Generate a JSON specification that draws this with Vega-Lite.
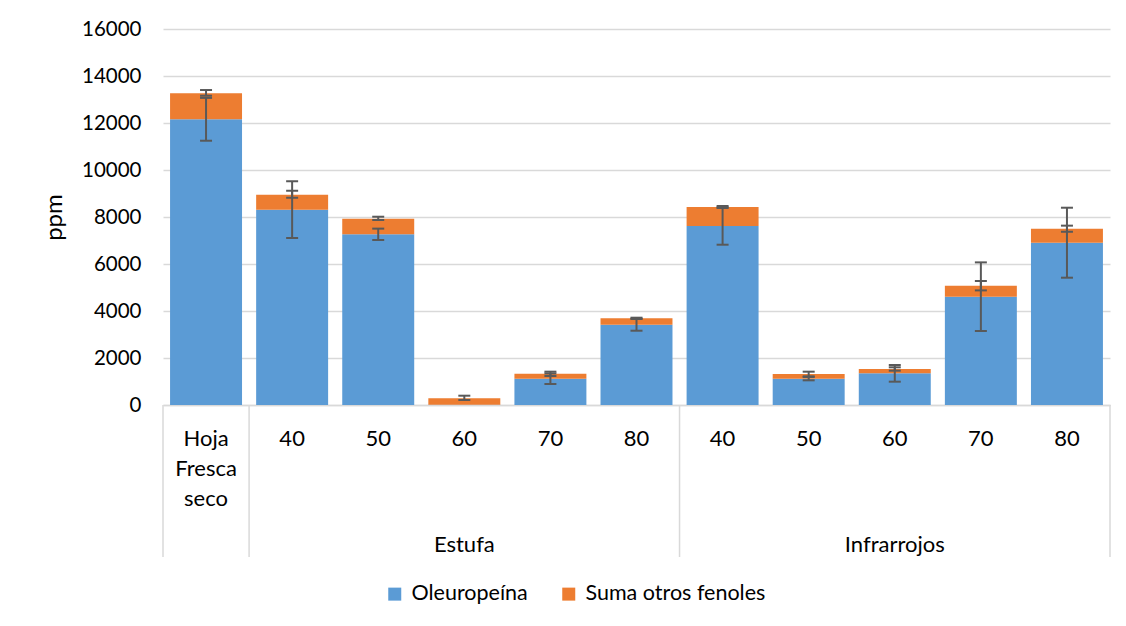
{
  "$schema": "https://vega.github.io/schema/vega-lite/v6.json",
  "background": "white",
  "padding": {"left": 42, "top": 19, "right": 10, "bottom": 5},
  "spacing": 0,
  "bounds": "flush",
  "config": {
    "font": "Lato",
    "view": {"stroke": null},
    "axis": {"labelFont": "Lato", "titleFont": "Lato", "labelColor": "#000000", "titleColor": "#000000", "titleFontSize": 24, "titleFontWeight": "normal"},
    "legend": {"labelFont": "Lato"}
  },
  "datasets": {
    "bars": [
      {"cat": "H", "series": "Oleuropeína", "ord": 1, "value": 12160},
      {"cat": "H", "series": "Suma otros fenoles", "ord": 2, "value": 1105},
      {"cat": "E40", "series": "Oleuropeína", "ord": 1, "value": 8310},
      {"cat": "E40", "series": "Suma otros fenoles", "ord": 2, "value": 640},
      {"cat": "E50", "series": "Oleuropeína", "ord": 1, "value": 7265},
      {"cat": "E50", "series": "Suma otros fenoles", "ord": 2, "value": 665},
      {"cat": "E60", "series": "Oleuropeína", "ord": 1, "value": 15},
      {"cat": "E60", "series": "Suma otros fenoles", "ord": 2, "value": 275},
      {"cat": "E70", "series": "Oleuropeína", "ord": 1, "value": 1120},
      {"cat": "E70", "series": "Suma otros fenoles", "ord": 2, "value": 213},
      {"cat": "E80", "series": "Oleuropeína", "ord": 1, "value": 3418},
      {"cat": "E80", "series": "Suma otros fenoles", "ord": 2, "value": 270},
      {"cat": "I40", "series": "Oleuropeína", "ord": 1, "value": 7616},
      {"cat": "I40", "series": "Suma otros fenoles", "ord": 2, "value": 809},
      {"cat": "I50", "series": "Oleuropeína", "ord": 1, "value": 1120},
      {"cat": "I50", "series": "Suma otros fenoles", "ord": 2, "value": 200},
      {"cat": "I60", "series": "Oleuropeína", "ord": 1, "value": 1347},
      {"cat": "I60", "series": "Suma otros fenoles", "ord": 2, "value": 185},
      {"cat": "I70", "series": "Oleuropeína", "ord": 1, "value": 4609},
      {"cat": "I70", "series": "Suma otros fenoles", "ord": 2, "value": 468},
      {"cat": "I80", "series": "Oleuropeína", "ord": 1, "value": 6906},
      {"cat": "I80", "series": "Suma otros fenoles", "ord": 2, "value": 596}
    ],
    "err": [
      {"cat": "H", "series": "Oleuropeína", "lo": 11246, "hi": 13068},
      {"cat": "H", "series": "Suma otros fenoles", "lo": 13161, "hi": 13403},
      {"cat": "E40", "series": "Oleuropeína", "lo": 7106, "hi": 9516},
      {"cat": "E40", "series": "Suma otros fenoles", "lo": 8821, "hi": 9118},
      {"cat": "E50", "series": "Oleuropeína", "lo": 7021, "hi": 7505},
      {"cat": "E50", "series": "Suma otros fenoles", "lo": 7872, "hi": 8012},
      {"cat": "E60", "series": "Suma otros fenoles", "lo": 213, "hi": 396},
      {"cat": "E70", "series": "Oleuropeína", "lo": 894, "hi": 1346},
      {"cat": "E70", "series": "Suma otros fenoles", "lo": 1234, "hi": 1418},
      {"cat": "E80", "series": "Oleuropeína", "lo": 3161, "hi": 3675},
      {"cat": "E80", "series": "Suma otros fenoles", "lo": 3660, "hi": 3715},
      {"cat": "I40", "series": "Oleuropeína", "lo": 6821, "hi": 8411},
      {"cat": "I40", "series": "Suma otros fenoles", "lo": 8385, "hi": 8467},
      {"cat": "I50", "series": "Oleuropeína", "lo": 1050, "hi": 1190},
      {"cat": "I50", "series": "Suma otros fenoles", "lo": 1220, "hi": 1418},
      {"cat": "I60", "series": "Oleuropeína", "lo": 992, "hi": 1702},
      {"cat": "I60", "series": "Suma otros fenoles", "lo": 1460, "hi": 1604},
      {"cat": "I70", "series": "Oleuropeína", "lo": 3149, "hi": 6069},
      {"cat": "I70", "series": "Suma otros fenoles", "lo": 4877, "hi": 5277},
      {"cat": "I80", "series": "Oleuropeína", "lo": 5417, "hi": 8395},
      {"cat": "I80", "series": "Suma otros fenoles", "lo": 7372, "hi": 7632}
    ],
    "labels": [
      {"cat": "H", "level": "cat", "label": "Hoja\nFresca\nseco"},
      {"cat": "E40", "level": "cat", "label": "40"},
      {"cat": "E50", "level": "cat", "label": "50"},
      {"cat": "E60", "level": "cat", "label": "60"},
      {"cat": "E70", "level": "cat", "label": "70"},
      {"cat": "E80", "level": "cat", "label": "80"},
      {"cat": "I40", "level": "cat", "label": "40"},
      {"cat": "I50", "level": "cat", "label": "50"},
      {"cat": "I60", "level": "cat", "label": "60"},
      {"cat": "I70", "level": "cat", "label": "70"},
      {"cat": "I80", "level": "cat", "label": "80"},
      {"cat": "E60", "level": "group", "label": "Estufa"},
      {"cat": "I60", "level": "group", "label": "Infrarrojos"}
    ],
    "sepsLeft": [{"cat": "H"}, {"cat": "E40"}, {"cat": "I40"}],
    "sepsRight": [{"cat": "I80"}]
  },
  "vconcat": [
    {
      "width": 947,
      "height": 376,
      "encoding": {
        "y": {
          "type": "quantitative",
          "scale": {"domain": [0, 16000], "nice": false},
          "title": "ppm",
          "axis": {
            "values": [0, 2000, 4000, 6000, 8000, 10000, 12000, 14000, 16000],
            "format": "d",
            "title": "ppm", "titleFontSize": 24, "titleFontWeight": "normal", "titlePadding": 15,
            "labelFontSize": 20.5, "labelPadding": 22,
            "domain": false, "ticks": false,
            "gridColor": "#D9D9D9", "gridWidth": 1.5
          }
        }
      },
      "layer": [
        {
          "data": {"name": "bars"},
          "mark": {"type": "bar", "width": {"band": 0.836}},
          "encoding": {
            "x": {
              "field": "cat", "type": "nominal",
              "scale": {"domain": ["H", "E40", "E50", "E60", "E70", "E80", "I40", "I50", "I60", "I70", "I80"], "paddingInner": 0, "paddingOuter": 0},
              "axis": {"labels": false, "ticks": false, "title": null, "domainColor": "#D9D9D9", "domainWidth": 1.5}
            },
            "y": {"field": "value", "type": "quantitative", "stack": "zero"},
            "color": {
              "field": "series", "type": "nominal",
              "scale": {"domain": ["Oleuropeína", "Suma otros fenoles"], "range": ["#5B9BD5", "#ED7D31"]},
              "legend": {
                "title": null, "orient": "none", "legendX": 221, "legendY": 554, "direction": "horizontal",
                "symbolType": "square", "symbolSize": 169, "symbolStrokeWidth": 0, "symbolOpacity": 1,
                "labelFontSize": 21.5, "labelColor": "#000000", "labelOffset": 6, "labelLimit": 0, "columnPadding": 30
              }
            },
            "order": {"field": "ord", "type": "quantitative"}
          }
        },
        {
          "data": {"name": "err"},
          "mark": {"type": "rule", "color": "#595959", "strokeWidth": 2},
          "encoding": {
            "x": {"field": "cat", "type": "nominal"},
            "y": {"field": "lo", "type": "quantitative"},
            "y2": {"field": "hi"}
          }
        },
        {
          "data": {"name": "err"},
          "mark": {"type": "tick", "color": "#595959", "size": 12, "thickness": 2, "opacity": 1},
          "encoding": {
            "x": {"field": "cat", "type": "nominal"},
            "y": {"field": "lo", "type": "quantitative"}
          }
        },
        {
          "data": {"name": "err"},
          "mark": {"type": "tick", "color": "#595959", "size": 12, "thickness": 2, "opacity": 1},
          "encoding": {
            "x": {"field": "cat", "type": "nominal"},
            "y": {"field": "hi", "type": "quantitative"}
          }
        }
      ]
    },
    {
      "width": 947,
      "height": 152,
      "layer": [
        {
          "data": {"name": "sepsLeft"},
          "mark": {"type": "rule", "color": "#D9D9D9", "strokeWidth": 1.5},
          "encoding": {
            "x": {
              "field": "cat", "type": "nominal", "bandPosition": 0,
              "scale": {"type": "band", "domain": ["H", "E40", "E50", "E60", "E70", "E80", "I40", "I50", "I60", "I70", "I80"], "paddingInner": 0, "paddingOuter": 0},
              "axis": null
            }
          }
        },
        {
          "data": {"name": "sepsRight"},
          "mark": {"type": "rule", "color": "#D9D9D9", "strokeWidth": 1.5},
          "encoding": {
            "x": {"field": "cat", "type": "nominal", "bandPosition": 1}
          }
        },
        {
          "data": {"name": "labels"},
          "mark": {"type": "text", "fontSize": 22, "color": "#000000", "lineBreak": "\n", "lineHeight": 30, "baseline": "top"},
          "encoding": {
            "x": {"field": "cat", "type": "nominal", "bandPosition": 0.5},
            "y": {"field": "level", "type": "nominal", "scale": {"type": "point", "domain": ["cat", "group"], "range": [24, 130], "padding": 0}, "axis": null},
            "text": {"field": "label"}
          }
        }
      ]
    }
  ]
}
